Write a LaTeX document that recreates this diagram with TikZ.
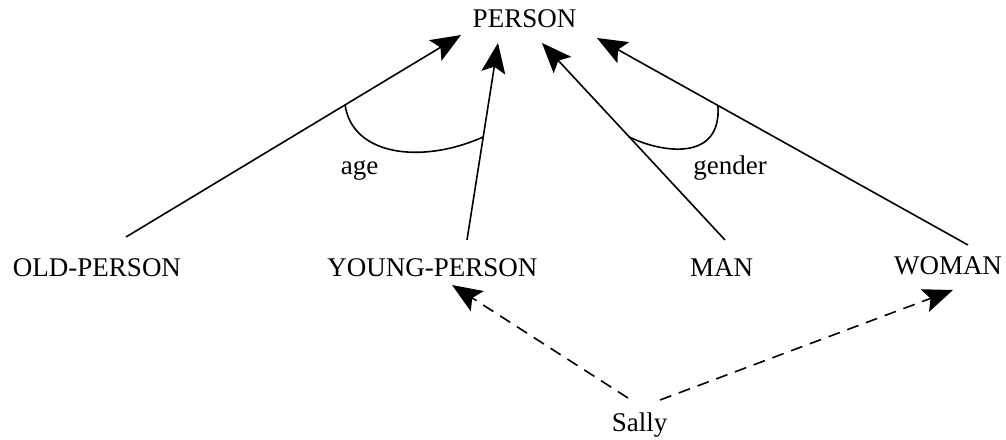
\documentclass[tikz,border=0pt]{standalone}
\usepackage{fontspec}
\setmainfont{Liberation Serif}
\usetikzlibrary{arrows.meta}
\begin{document}
\begin{tikzpicture}[x=1pt,y=1pt,
  lbl/.style={anchor=base,inner sep=0pt,font=\fontsize{27}{32}\selectfont},
  link/.style={line width=1.6pt,-{Stealth[length=30pt,width=24pt,inset=6pt]}},
  inst/.style={link,dash pattern=on 12pt off 8pt},
  arcline/.style={line width=1.6pt}]
\useasboundingbox (0,0) rectangle (1006,439);
\node[lbl] (person) at (524.5,411) {PERSON};
\node[lbl] (old) at (97,162) {OLD-PERSON};
\node[lbl] (young) at (432.5,162) {YOUNG-PERSON};
\node[lbl] (man) at (721.5,162) {MAN};
\node[lbl] (woman) at (948,164) {WOMAN};
\node[lbl] (sally) at (639.5,8) {Sally};
\node[lbl] (age) at (359.5,264) {age};
\node[lbl] (gender) at (730,264) {gender};
\draw[link] ([shift={(29,40)}]old.base) -- coordinate[pos=0.654] (agea) ([shift={(-63.5,-7)}]person.base);
\draw[link] ([shift={(34.5,37)}]young.base) -- coordinate[pos=0.523] (ageb) ([shift={(-26.5,-15)}]person.base);
\draw[link] ([shift={(3.5,37)}]man.base) -- coordinate[pos=0.523] (gena) ([shift={(17.5,-15)}]person.base);
\draw[link] ([shift={(20,30)}]woman.base) -- coordinate[pos=0.674] (genb) ([shift={(72.5,-10)}]person.base);
\draw[inst] ([shift={(-11.5,33)}]sally.base) -- ([shift={(19.5,-8)}]young.base);
\draw[inst] ([shift={(20.5,31)}]sally.base) -- ([shift={(5,-15)}]woman.base);
\draw[arcline] (agea) .. controls +(7,-50) and +(-63,-28) .. (ageb);
\draw[arcline] (gena) .. controls +(30,-15) and +(4,-58) .. (genb);
\end{tikzpicture}
\end{document}
